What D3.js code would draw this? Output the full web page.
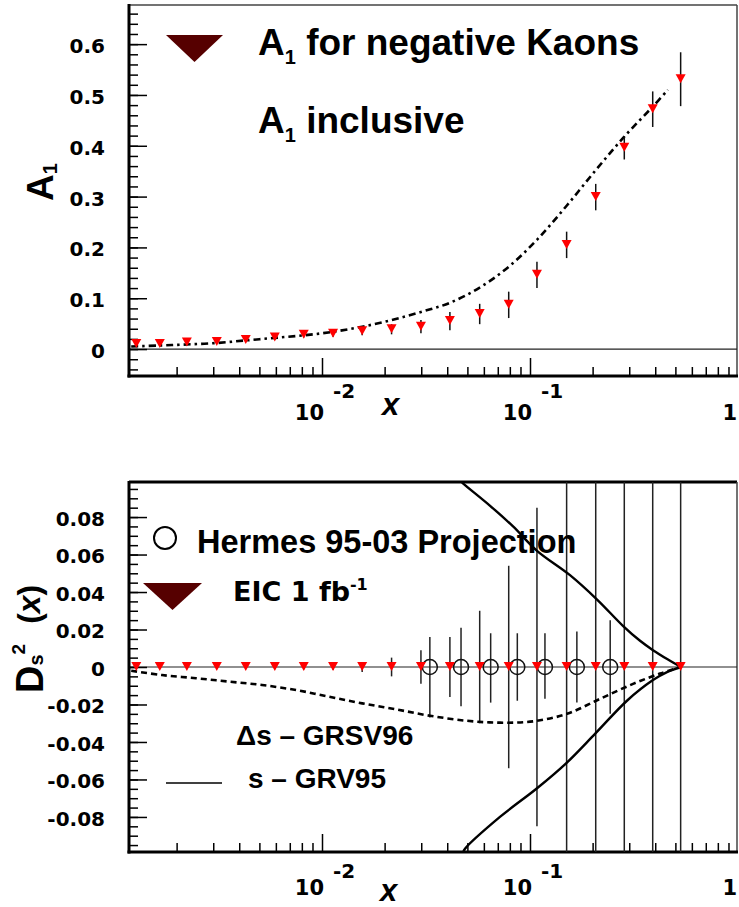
<!DOCTYPE html>
<html>
<head>
<meta charset="utf-8">
<script src="https://cdn.jsdelivr.net/npm/d3@7"></script>
<style>
html,body{margin:0;padding:0;background:#fff;}
svg{display:block;}
</style>
</head>
<body>
<script>
// ---------------- DATA ----------------
// Top panel: A1 for negative kaons (EIC projection)
const xKaon = [0.00128, 0.00166, 0.00224, 0.00312, 0.0043, 0.00593, 0.00817, 0.0113, 0.0156, 0.0216,
               0.0299, 0.0412, 0.0573, 0.0790, 0.108, 0.150, 0.207, 0.284, 0.389, 0.530];
const a1Kaon = [0.010, 0.010, 0.013, 0.014, 0.018, 0.023, 0.028, 0.030, 0.035, 0.039,
                0.044, 0.055, 0.069, 0.087, 0.146, 0.205, 0.299, 0.396, 0.472, 0.531];
const a1KaonErr = [0.003, 0.003, 0.003, 0.004, 0.004, 0.005, 0.005, 0.006, 0.008, 0.010,
                   0.013, 0.018, 0.020, 0.026, 0.026, 0.026, 0.026, 0.023, 0.035, 0.053];
// Top panel: A1 inclusive curve
const xIncl = [0.00121, 0.00166, 0.00224, 0.00312, 0.0043, 0.00593, 0.00817, 0.0113, 0.0156, 0.0216,
               0.0299, 0.0412, 0.0573, 0.0790, 0.108, 0.150, 0.207, 0.284, 0.389, 0.46];
const a1Incl = [0.005, 0.007, 0.009, 0.012, 0.017, 0.022, 0.027, 0.034, 0.044, 0.057,
                0.073, 0.091, 0.121, 0.162, 0.215, 0.282, 0.352, 0.418, 0.477, 0.510];

// Bottom panel: EIC 1 fb-1 projection
const xEIC = xKaon;
const dsEIC = [0, 0, 0, 0, 0, 0, 0, 0, 0, 0, 0, 0, 0, 0, 0, 0, 0, 0, 0, 0];
const dsEICErr = [0.0005, 0.0005, 0.0005, 0.0005, 0.0008, 0.001, 0.0012, 0.0015, 0.0027, 0.005,
                  0.009, 0.016, 0.030, 0.054, 0.085, 0.15, 0.15, 0.15, 0.15, 0.15];
// Bottom panel: Hermes 95-03 projection
const xHermes = [0.0330, 0.0466, 0.0647, 0.0869, 0.118, 0.168, 0.243];
const dsHermes = [0, 0, 0, 0, 0, 0, 0];
const hermesErrUp = [0.016, 0.021, 0.018, 0.018, 0.018, 0.019, 0.025];
const hermesErrDown = [0.027, 0.021, 0.019, 0.018, 0.017, 0.019, 0.025];
// Bottom panel: Δs – GRSV96 (dashed)
const xGRSV = [0.00121, 0.0017, 0.00248, 0.00357, 0.00515, 0.0075, 0.0108, 0.0156, 0.0227, 0.033,
               0.0498, 0.0717, 0.1034, 0.1506, 0.2172, 0.313, 0.4217, 0.532];
const dsGRSV = [-0.0020, -0.0043, -0.0060, -0.0078, -0.0096, -0.0123, -0.0158, -0.0194, -0.0226, -0.0260,
                -0.0287, -0.0297, -0.0290, -0.0250, -0.0170, -0.0090, -0.0035, 0.0];
// Bottom panel: s – GRV95 band (solid, upper and lower)
const xGRVup = [0.0461, 0.0476, 0.0643, 0.0829, 0.1081, 0.1557, 0.2101, 0.2797, 0.3381, 0.3902, 0.4607, 0.532];
const dsGRVup = [0.0995, 0.098, 0.086, 0.075, 0.062, 0.049, 0.036, 0.022, 0.014, 0.009, 0.004, 0.0];
const xGRVlow = [0.0475, 0.0487, 0.0717, 0.1081, 0.1491, 0.2053, 0.2925, 0.3902, 0.4607, 0.532];
const dsGRVlow = [-0.0995, -0.097, -0.080, -0.0647, -0.0514, -0.0357, -0.018, -0.007, -0.0025, 0.0];

// Axis ticks / labels
const xMajorTicks = [0.01, 0.1, 1];
const xMajorBase = ["10", "10", "1"];
const xMajorExp = ["-2", "-1", ""];
const yTopTicks = [0, 0.1, 0.2, 0.3, 0.4, 0.5, 0.6];
const yTopLabels = ["0", "0.1", "0.2", "0.3", "0.4", "0.5", "0.6"];
const yBotTicks = [-0.08, -0.06, -0.04, -0.02, 0, 0.02, 0.04, 0.06, 0.08];
const yBotLabels = ["-0.08", "-0.06", "-0.04", "-0.02", "0", "0.02", "0.04", "0.06", "0.08"];

// ---------------- DRAWING ----------------
const W = 739, H = 907;
const svg = d3.select("body").append("svg").attr("width", W).attr("height", H);
svg.append("rect").attr("width", W).attr("height", H).attr("fill", "#fff");

const FONT = "'Liberation Sans', Arial, Helvetica, sans-serif";
const TFONT = "'DejaVu Sans', sans-serif";
const L = 129, R = 737;

const x = d3.scaleLog().domain([Math.pow(10, -2.9279), 1]).range([L, 738]);

function panel(cfg) {
  const { top, bottom, y, yTicks, yLabels, yMinorStep, id, topStroke } = cfg;
  const g = svg.append("g");
  svg.append("clipPath").attr("id", id).append("rect")
    .attr("x", L).attr("y", top).attr("width", R - L).attr("height", bottom - top);

  g.append("line").attr("x1", L).attr("x2", R).attr("y1", top).attr("y2", top)
    .attr("stroke", topStroke.c).attr("stroke-width", topStroke.w);
  g.append("line").attr("x1", R).attr("x2", R).attr("y1", top).attr("y2", bottom)
    .attr("stroke", "#444").attr("stroke-width", 1.5);

  g.append("line").attr("x1", L).attr("x2", R).attr("y1", y(0)).attr("y2", y(0))
    .attr("stroke", "#222").attr("stroke-width", 1.2);

  const [d0, d1] = y.domain();
  const minor = d3.range(Math.ceil(d0 / yMinorStep - 1e-6), Math.floor(d1 / yMinorStep + 1e-6) + 1)
    .map(k => k * yMinorStep);
  const ayMinor = d3.axisLeft(y).tickValues(minor).tickSize(-9).tickFormat("");
  const gm = g.append("g").attr("transform", `translate(${L},0)`).call(ayMinor);
  gm.select(".domain").remove();
  gm.selectAll("line").attr("stroke", "#000").attr("stroke-width", 1.5);

  const ay = d3.axisLeft(y).tickValues(yTicks).tickSize(-18).tickPadding(24)
    .tickFormat((d, i) => yLabels[i]);
  const ga = g.append("g").attr("transform", `translate(${L},0)`).call(ay);
  ga.select(".domain").remove();
  ga.selectAll("line").attr("stroke", "#000").attr("stroke-width", 1.5);
  ga.selectAll("text").attr("font-family", TFONT).attr("font-weight", "bold")
    .attr("font-size", 20).attr("fill", "#000").attr("dy", "0.42em");

  const xMinor = x.ticks().filter(v => v >= x.domain()[0] && v <= 1 && !xMajorTicks.some(m => Math.abs(m - v) < 1e-9));
  const axMinor = d3.axisBottom(x).tickValues(xMinor).tickSize(-9).tickFormat("");
  const gxm = g.append("g").attr("transform", `translate(0,${bottom})`).call(axMinor);
  gxm.select(".domain").remove();
  gxm.selectAll("line").attr("stroke", "#000").attr("stroke-width", 1.5);
  const axMajor = d3.axisBottom(x).tickValues(xMajorTicks.filter(v => x(v) <= R)).tickSize(-18).tickFormat("");
  const gxa = g.append("g").attr("transform", `translate(0,${bottom})`).call(axMajor);
  gxa.select(".domain").remove();
  gxa.selectAll("line").attr("stroke", "#000").attr("stroke-width", 1.5);

  xMajorTicks.forEach((v, i) => {
    const px = x(v);
    if (xMajorExp[i]) {
      g.append("text").attr("x", px + 2).attr("y", bottom + cfg.labBase)
        .attr("text-anchor", "end").attr("font-family", TFONT).attr("font-weight", "bold")
        .attr("font-size", 21).text(xMajorBase[i]);
      g.append("text").attr("x", px + 11).attr("y", bottom + cfg.labBase - cfg.expRaise)
        .attr("font-family", TFONT).attr("font-weight", "bold")
        .attr("font-size", 20).text(xMajorExp[i]);
    } else {
      g.append("text").attr("x", 737).attr("y", bottom + cfg.labBase)
        .attr("text-anchor", "end").attr("font-family", TFONT).attr("font-weight", "bold")
        .attr("font-size", 21).text(xMajorBase[i]);
    }
  });

  g.append("line").attr("x1", L).attr("x2", L).attr("y1", top - 1).attr("y2", bottom + 1.5)
    .attr("stroke", "#000").attr("stroke-width", 3);
  g.append("line").attr("x1", L - 1.5).attr("x2", R + 1).attr("y1", bottom).attr("y2", bottom)
    .attr("stroke", "#000").attr("stroke-width", 3);

  return g;
}

const tri = "M-5,-5L5,-5L0,4Z";

// ===== TOP PANEL =====
const yTop = d3.scaleLinear().domain([-0.053, 0.677]).range([376, 5]);
panel({ top: 5, bottom: 376, y: yTop, yTicks: yTopTicks, yLabels: yTopLabels, yMinorStep: 0.02,
        id: "clipTop", topStroke: { c: "#444", w: 1.5 }, labBase: 44, expRaise: 22 });

const topData = svg.append("g").attr("clip-path", "url(#clipTop)");
const lineTop = d3.line().x(d => x(d[0])).y(d => yTop(d[1])).curve(d3.curveCatmullRom);
topData.append("path").datum(xIncl.map((v, i) => [v, a1Incl[i]]))
  .attr("d", lineTop).attr("fill", "none").attr("stroke", "#000").attr("stroke-width", 2.6)
  .attr("stroke-dasharray", "7,4,2.5,4");
topData.selectAll(".eb").data(xKaon).join("line")
  .attr("x1", d => x(d)).attr("x2", d => x(d))
  .attr("y1", (d, i) => yTop(a1Kaon[i] - a1KaonErr[i])).attr("y2", (d, i) => yTop(a1Kaon[i] + a1KaonErr[i]))
  .attr("stroke", "#111").attr("stroke-width", 1.5);
topData.selectAll(".tri").data(xKaon).join("path")
  .attr("d", tri).attr("fill", "#ff0000")
  .attr("transform", (d, i) => `translate(${x(d)},${yTop(a1Kaon[i])})`);

// top legend
svg.append("path").attr("d", "M166,35L223,35L194.5,62Z").attr("fill", "#560000");
const t1 = svg.append("text").attr("x", 258).attr("y", 55).attr("font-family", FONT)
  .attr("font-weight", "bold").attr("font-size", 37);
t1.append("tspan").text("A");
t1.append("tspan").attr("font-size", 20).attr("dy", 9).text("1");
t1.append("tspan").attr("dy", -9).text(" for negative Kaons");
const t2 = svg.append("text").attr("x", 258).attr("y", 133).attr("font-family", FONT)
  .attr("font-weight", "bold").attr("font-size", 37);
t2.append("tspan").text("A");
t2.append("tspan").attr("font-size", 20).attr("dy", 9).text("1");
t2.append("tspan").attr("dy", -9).text(" inclusive");

// top y title
const yt1 = svg.append("text").attr("transform", "translate(53,201) rotate(-90)")
  .attr("font-family", FONT).attr("font-weight", "bold").attr("font-size", 37);
yt1.append("tspan").text("A");
yt1.append("tspan").attr("font-size", 20).attr("dy", 4).text("1");
// top x title
svg.append("text").attr("x", 382).attr("y", 415).attr("font-family", FONT).attr("font-weight", "bold")
  .attr("font-style", "italic").attr("font-size", 31).text("x");

// ===== BOTTOM PANEL =====
const yBot = d3.scaleLinear().domain([-0.0987, 0.0987]).range([852, 482]);
panel({ top: 482, bottom: 852, y: yBot, yTicks: yBotTicks, yLabels: yBotLabels, yMinorStep: 0.005,
        id: "clipBot", topStroke: { c: "#000", w: 3 }, labBase: 43, expRaise: 17 });

const botData = svg.append("g").attr("clip-path", "url(#clipBot)");
const lineBot = d3.line().x(d => x(d[0])).y(d => yBot(d[1])).curve(d3.curveCatmullRom);
botData.selectAll(".ebe").data(xEIC).join("line")
  .attr("x1", d => x(d)).attr("x2", d => x(d))
  .attr("y1", (d, i) => yBot(dsEIC[i] - dsEICErr[i])).attr("y2", (d, i) => yBot(dsEIC[i] + dsEICErr[i]))
  .attr("stroke", "#222").attr("stroke-width", 1.5);
botData.selectAll(".ebh").data(xHermes).join("line")
  .attr("x1", d => x(d)).attr("x2", d => x(d))
  .attr("y1", (d, i) => yBot(dsHermes[i] - hermesErrDown[i])).attr("y2", (d, i) => yBot(dsHermes[i] + hermesErrUp[i]))
  .attr("stroke", "#222").attr("stroke-width", 1.5);
botData.append("path").datum(xGRSV.map((v, i) => [v, dsGRSV[i]]))
  .attr("d", lineBot).attr("fill", "none").attr("stroke", "#000").attr("stroke-width", 2.6)
  .attr("stroke-dasharray", "6,4");
botData.append("path").datum(xGRVup.map((v, i) => [v, dsGRVup[i]]))
  .attr("d", lineBot).attr("fill", "none").attr("stroke", "#000").attr("stroke-width", 2.4);
botData.append("path").datum(xGRVlow.map((v, i) => [v, dsGRVlow[i]]))
  .attr("d", lineBot).attr("fill", "none").attr("stroke", "#000").attr("stroke-width", 2.4);
botData.selectAll(".hc").data(xHermes).join("circle")
  .attr("cx", d => x(d)).attr("cy", (d, i) => yBot(dsHermes[i])).attr("r", 7.5)
  .attr("fill", "none").attr("stroke", "#111").attr("stroke-width", 1.5);
botData.selectAll(".tri").data(xEIC).join("path")
  .attr("d", tri).attr("fill", "#ff0000")
  .attr("transform", (d, i) => `translate(${x(d)},${yBot(dsEIC[i])})`);

// bottom legend
svg.append("circle").attr("cx", 165).attr("cy", 538).attr("r", 11)
  .attr("fill", "none").attr("stroke", "#000").attr("stroke-width", 2);
svg.append("text").attr("x", 197).attr("y", 553).attr("font-family", FONT).attr("font-weight", "bold")
  .attr("font-size", 32.5).text("Hermes 95-03 Projection");
svg.append("path").attr("d", "M143,583L202,583L172.5,610Z").attr("fill", "#560000");
const te = svg.append("text").attr("x", 233).attr("y", 601).attr("font-family", TFONT)
  .attr("font-weight", "bold").attr("font-size", 27);
te.append("tspan").text("EIC 1 fb");
te.append("tspan").attr("font-size", 16).attr("dy", -11).text("-1");
svg.append("text").attr("x", 236).attr("y", 745).attr("font-family", FONT).attr("font-weight", "bold")
  .attr("font-size", 28).text("Δs – GRSV96");
svg.append("line").attr("x1", 166).attr("x2", 222).attr("y1", 783).attr("y2", 783)
  .attr("stroke", "#000").attr("stroke-width", 1.5);
svg.append("text").attr("x", 248).attr("y", 788).attr("font-family", FONT).attr("font-weight", "bold")
  .attr("font-size", 28).text("s – GRV95");

// bottom y title
const yt2 = svg.append("text").attr("transform", "translate(43,693) rotate(-90)")
  .attr("font-family", FONT).attr("font-weight", "bold").attr("font-size", 38);
yt2.append("tspan").text("D");
yt2.append("tspan").attr("font-size", 20).text("s");
yt2.append("tspan").attr("font-size", 19).attr("dy", -18).text("2");
yt2.append("tspan").attr("font-size", 32).attr("dy", 15).attr("dx", 20).text("(");
yt2.append("tspan").attr("font-size", 32).attr("font-style", "italic").text("x");
yt2.append("tspan").attr("font-size", 32).text(")");
// bottom x title
svg.append("text").attr("x", 380).attr("y", 901).attr("font-family", FONT).attr("font-weight", "bold")
  .attr("font-style", "italic").attr("font-size", 31).text("x");
</script>
</body>
</html>
